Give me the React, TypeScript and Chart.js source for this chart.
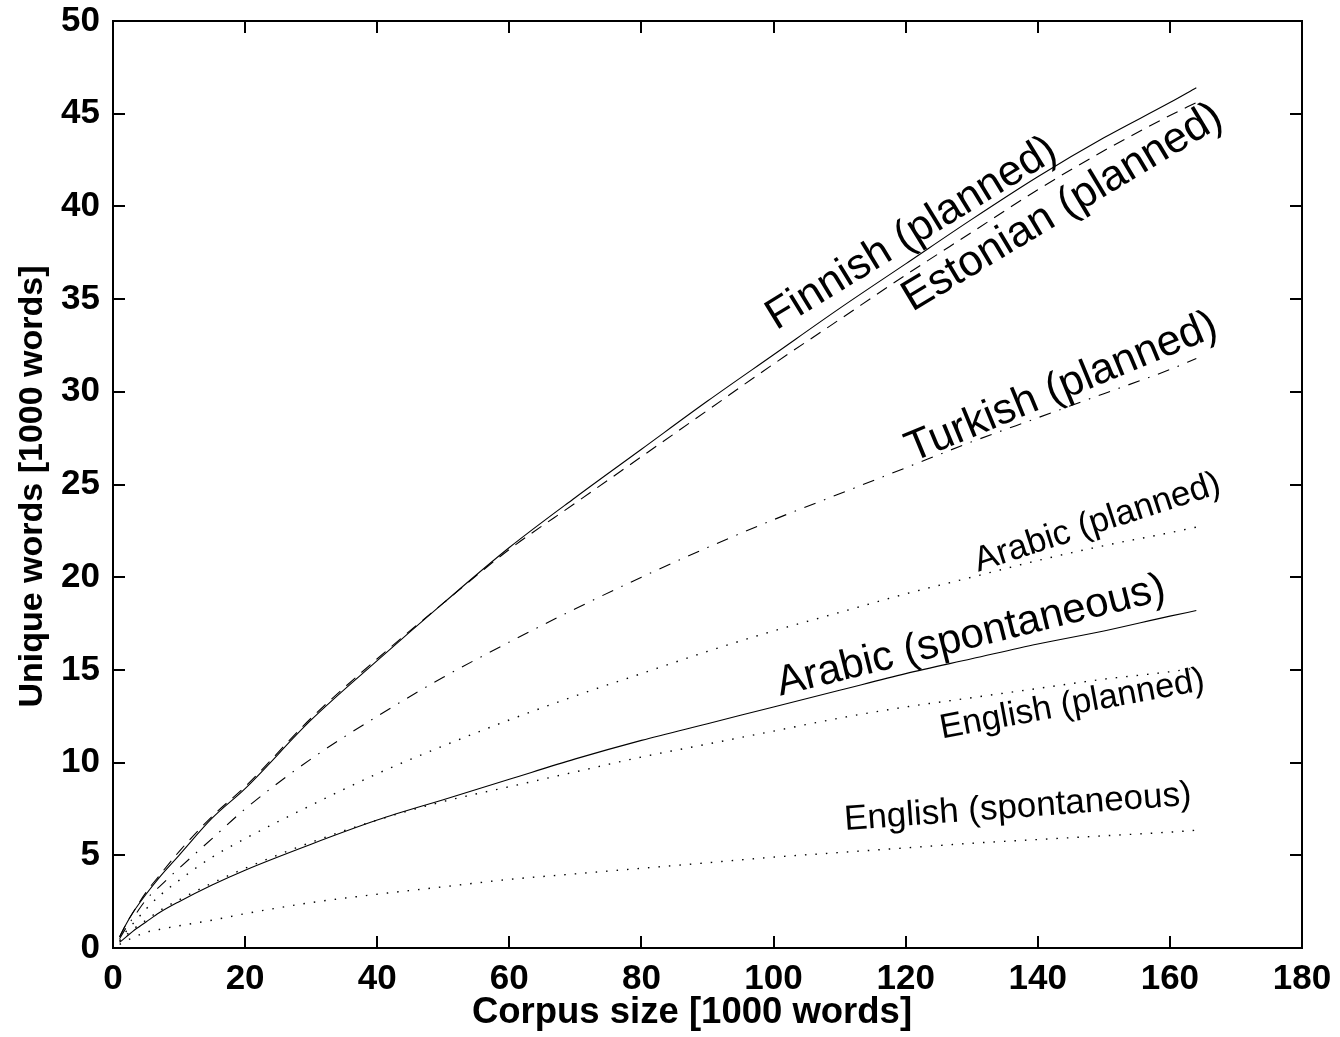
import React, { useEffect, useRef } from "react";
import { Chart, registerables } from "chart.js";

Chart.register(...registerables);

// Corpus size [1000 words]
const corpusSize = [1, 2, 3, 5, 7, 10, 15, 20, 30, 40, 50, 60, 70, 80, 90, 100, 110, 120, 130, 140, 150, 160, 164];

// Unique words [1000 words]
const finnishPlanned = [0.6, 1.3, 1.9, 2.9, 3.8, 5.0, 7.0, 8.6, 12.3, 15.5, 18.6, 21.6, 24.3, 26.9, 29.5, 32.0, 34.5, 36.9, 39.3, 41.6, 43.7, 45.6, 46.4];
const estonianPlanned = [0.6, 1.3, 1.9, 3.0, 3.9, 5.2, 7.1, 8.7, 12.4, 15.6, 18.6, 21.5, 24.0, 26.5, 29.0, 31.5, 33.9, 36.3, 38.6, 40.9, 43.0, 44.9, 45.6];
const turkishPlanned = [0.5, 1.1, 1.6, 2.6, 3.3, 4.3, 5.9, 7.5, 10.2, 12.5, 14.6, 16.5, 18.3, 20.0, 21.6, 23.1, 24.5, 25.9, 27.3, 28.6, 29.9, 31.2, 31.8];
const arabicPlanned = [0.4, 0.9, 1.3, 2.1, 2.8, 3.65, 4.9, 5.9, 7.7, 9.4, 10.9, 12.3, 13.6, 14.8, 16.0, 17.1, 18.1, 19.1, 20.0, 20.9, 21.7, 22.4, 22.7];
const arabicSpontaneous = [0.3, 0.6, 0.9, 1.4, 1.9, 2.5, 3.4, 4.2, 5.6, 6.9, 8.0, 9.1, 10.2, 11.2, 12.1, 13.0, 13.9, 14.8, 15.6, 16.4, 17.1, 17.9, 18.2];
const englishPlanned = [0.35, 0.7, 1.0, 1.5, 2.0, 2.6, 3.5, 4.3, 5.7, 6.9, 7.9, 8.7, 9.5, 10.3, 11.0, 11.7, 12.4, 13.0, 13.5, 14.0, 14.5, 14.9, 15.1];
const englishSpontaneous = [0.2, 0.4, 0.55, 0.85, 1.0, 1.2, 1.5, 1.85, 2.45, 2.9, 3.3, 3.7, 4.0, 4.3, 4.6, 4.9, 5.15, 5.4, 5.65, 5.85, 6.05, 6.25, 6.35];

const xTicks = [0, 20, 40, 60, 80, 100, 120, 140, 160, 180];
const yTicks = [0, 5, 10, 15, 20, 25, 30, 35, 40, 45, 50];

const xTitle = "Corpus size [1000 words]";
const yTitle = "Unique words [1000 words]";

// Curve labels: text, anchor (data coords, start of baseline), rotation (deg), size
const labelTexts = ["Finnish (planned)", "Estonian (planned)", "Turkish (planned)", "Arabic (planned)", "Arabic (spontaneous)", "English (planned)", "English (spontaneous)"];
const labelX = [100.4, 121, 121, 131, 101, 125.5, 110.8];
const labelY = [33.3, 34.3, 26.2, 20.3, 13.6, 11.3, 6.36];
const labelAngle = [-31.5, -31, -22.5, -18, -14, -10.5, -4.2];
const labelSize = [43, 43.5, 43, 35, 42, 34.5, 35];

const FONT = '"Liberation Sans", Arial, Helvetica, sans-serif';

const SOLID: number[] = [];
const DASHED = [12, 8];
const DASHDOT = [12, 9, 1.5, 9];
const DOTTED = [1.5, 9];

export default function App() {
  const ref = useRef<HTMLCanvasElement | null>(null);

  useEffect(() => {
    const canvas = ref.current;
    if (!canvas) return;

    const mk = (label: string, ys: number[], dash: number[]) => ({
      label,
      data: corpusSize.map((x, i) => ({ x, y: ys[i] })),
      borderColor: "#000",
      borderWidth: dash === DOTTED ? 1.4 : 1.1,
      borderDash: dash,
      borderCapStyle: "butt" as const,
      pointRadius: 0,
      fill: false,
      cubicInterpolationMode: "monotone" as const,
    });

    const framePlugin = {
      id: "frame",
      afterDraw(chart: any) {
        const { ctx, chartArea, scales } = chart;
        const { left, right, top, bottom } = chartArea;
        ctx.save();
        ctx.strokeStyle = "#000";
        ctx.lineWidth = 2;
        ctx.strokeRect(left, top, right - left, bottom - top);
        const tl = 12;
        ctx.beginPath();
        xTicks.forEach((v) => {
          const px = Math.round(scales.x.getPixelForValue(v));
          ctx.moveTo(px, bottom);
          ctx.lineTo(px, bottom - tl);
          ctx.moveTo(px, top);
          ctx.lineTo(px, top + tl);
        });
        yTicks.forEach((v) => {
          const py = Math.round(scales.y.getPixelForValue(v));
          ctx.moveTo(left, py);
          ctx.lineTo(left + tl, py);
          ctx.moveTo(right, py);
          ctx.lineTo(right - tl, py);
        });
        ctx.stroke();

        // curve labels
        ctx.fillStyle = "#000";
        ctx.textAlign = "left";
        ctx.textBaseline = "alphabetic";
        labelTexts.forEach((t, i) => {
          const px = scales.x.getPixelForValue(labelX[i]);
          const py = scales.y.getPixelForValue(labelY[i]);
          ctx.save();
          ctx.translate(px, py);
          ctx.rotate((labelAngle[i] * Math.PI) / 180);
          ctx.font = `${labelSize[i]}px ${FONT}`;
          ctx.fillText(t, 0, 0);
          ctx.restore();
        });

        // axis titles
        ctx.textAlign = "center";
        ctx.textBaseline = "alphabetic";
        ctx.font = `bold 36.5px ${FONT}`;
        ctx.fillText(xTitle, 692, 1023);
        ctx.font = `bold 34px ${FONT}`;
        ctx.save();
        ctx.translate(42, (top + bottom) / 2 + 2);
        ctx.rotate(-Math.PI / 2);
        ctx.fillText(yTitle, 0, 0);
        ctx.restore();
        ctx.restore();
      },
    };

    const chart = new Chart(canvas, {
      type: "line",
      data: {
        datasets: [
          mk("Finnish (planned)", finnishPlanned, SOLID),
          mk("Estonian (planned)", estonianPlanned, DASHED),
          mk("Turkish (planned)", turkishPlanned, DASHDOT),
          mk("Arabic (planned)", arabicPlanned, DOTTED),
          mk("Arabic (spontaneous)", arabicSpontaneous, SOLID),
          mk("English (planned)", englishPlanned, DOTTED),
          mk("English (spontaneous)", englishSpontaneous, DOTTED),
        ],
      },
      options: {
        animation: false,
        responsive: false,
        devicePixelRatio: 1,
        layout: { padding: { left: 0, right: 38, top: 21, bottom: 0 } },
        plugins: {
          legend: { display: false },
          tooltip: { enabled: false },
          title: { display: false },
        },
        scales: {
          x: {
            type: "linear",
            min: 0,
            max: 180,
            border: { display: false },
            grid: { display: false, drawTicks: false },
            afterBuildTicks: (s: any) => {
              s.ticks = xTicks.map((v) => ({ value: v }));
            },
            afterFit: (s: any) => {
              s.height = 1037 - 948;
              s.paddingLeft = 0;
              s.paddingRight = 0;
            },
            ticks: {
              autoSkip: false,
              maxRotation: 0,
              padding: 10,
              color: "#000",
              font: { family: FONT, size: 35, weight: "bold" },
            },
          },
          y: {
            type: "linear",
            min: 0,
            max: 50,
            border: { display: false },
            grid: { display: false, drawTicks: false },
            afterBuildTicks: (s: any) => {
              s.ticks = yTicks.map((v) => ({ value: v }));
            },
            afterFit: (s: any) => {
              s.width = 113;
              s.paddingTop = 0;
              s.paddingBottom = 0;
            },
            ticks: {
              autoSkip: false,
              padding: 13,
              color: "#000",
              font: { family: FONT, size: 35, weight: "bold" },
            },
          },
        },
      },
      plugins: [framePlugin],
    });

    return () => chart.destroy();
  }, []);

  return (
    <div style={{ position: "absolute", left: 0, top: 0, width: 1340, height: 1037, background: "#fff" }}>
      <canvas ref={ref} width={1340} height={1037} style={{ display: "block" }} />
    </div>
  );
}
